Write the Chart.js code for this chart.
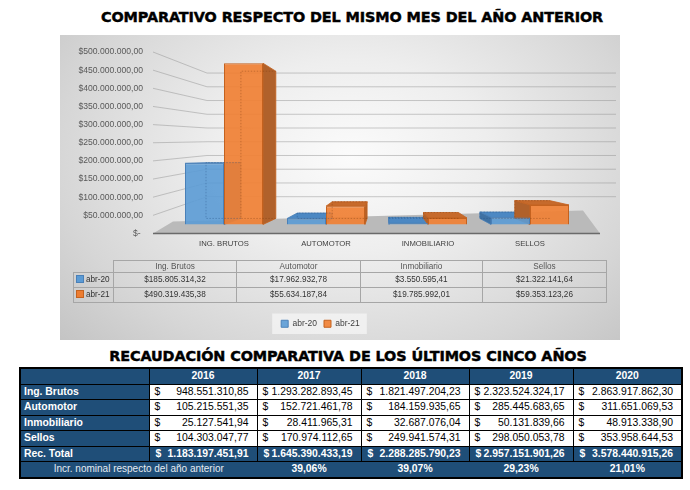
<!DOCTYPE html>
<html><head><meta charset="utf-8">
<script src="https://cdn.jsdelivr.net/npm/chart.js@4.4.1/dist/chart.umd.min.js"></script>
<style>
body{margin:0;width:690px;height:490px;background:#fff;position:relative;overflow:hidden;font-family:'Liberation Sans',Arial,sans-serif}
.t{position:absolute;width:690px;text-align:center;font-family:'DejaVu Sans',sans-serif;font-weight:bold;color:#000;-webkit-text-stroke:0.45px #000;white-space:nowrap;letter-spacing:-0.1px}
#t1{top:9px;left:7px;font-size:14.4px}
#t2{top:348px;left:3px;font-size:14.4px}
#box{position:absolute;left:60px;top:35px;width:560px;height:305px;
 background:radial-gradient(ellipse 70% 90% at 52% 40%,#fbfbfb 0%,#eeeeee 35%,#d6d6d6 75%,#c4c4c4 100%)}
#cw{position:absolute;left:0;top:0;width:560px;height:305px}
#dt{position:absolute;left:13px;top:225px;border-collapse:collapse;table-layout:fixed;font-size:8.2px;color:#333}
#dt td{border:1px solid #a6a6a6;text-align:center;padding:0;white-space:nowrap;height:14px;line-height:14px}
#dt tr:first-child td{height:11px;line-height:11px;color:#555}
#dt td.e{border-top:none;border-left:none}
#dt td.k{text-align:left;padding-left:2px}
#dt i{display:inline-block;width:6px;height:6px;border:1px solid;margin-right:2px;vertical-align:-1px}
#bt{position:absolute;left:19px;top:367px;width:662px;border-collapse:collapse;table-layout:fixed;border:2.5px solid #000;font-size:10.4px}
#bt td{border:1px solid #000;height:14.5px;line-height:14px;padding:0;white-space:nowrap}
#bt .h td{background:#1F4E78;color:#fff;font-weight:bold;text-align:center}
#bt td.l{background:#1F4E78;color:#fff;font-weight:bold;padding-left:3px}
#bt td.v{background:#fff;color:#000}
#bt td.v div{display:flex;justify-content:space-between;padding:0 8px 0 5px}
#bt .tot td{background:#1F4E78;color:#fff;font-weight:bold}
#bt .tot td div{display:flex;justify-content:space-between;padding:0 8px 0 6px}
#bt .inc td{background:#1F4E78;color:#fff;border-color:#1F4E78;text-align:center;font-weight:bold}
#bt .inc td.il{font-weight:normal;color:#e6ecf2;font-size:10px}
</style></head>
<body>
<div class="t" id="t1">COMPARATIVO RESPECTO DEL MISMO MES DEL AÑO ANTERIOR</div>
<div id="box"><div id="cw"><canvas id="c"></canvas></div><table id="dt"></table></div>
<div class="t" id="t2">RECAUDACIÓN COMPARATIVA DE LOS ÚLTIMOS CINCO AÑOS</div>
<table id="bt"></table>
<script>
// ---- chart data ----
const categories = ['Ing. Brutos','Automotor','Inmobiliario','Sellos'];
const seriesLabels = ['abr-20','abr-21'];
const abr20 = [185805314.32, 17962932.78, 3550595.41, 21322141.64];
const abr21 = [490319435.38, 55634187.84, 19785992.01, 59353123.26];
const yMax = 500000000;
const yStep = 50000000;

// ---- five-year table data ----
const years = ['2016','2017','2018','2019','2020'];
const rowLabels = ['Ing. Brutos','Automotor','Inmobiliario','Sellos'];
const ingBrutos = [948551310.85, 1293282893.45, 1821497204.23, 2323524324.17, 2863917862.30];
const automotor = [105215551.35, 152721461.78, 184159935.65, 285445683.65, 311651069.53];
const inmobiliario = [25127541.94, 28411965.31, 32687076.04, 50131839.66, 48913338.90];
const sellos = [104303047.77, 170974112.65, 249941574.31, 298050053.78, 353958644.53];
const recTotal = [1183197451.91, 1645390433.19, 2288285790.23, 2957151901.26, 3578440915.26];
const incrNominal = ['', '39,06%', '39,07%', '29,23%', '21,01%'];
const incrLabel = 'Incr. nominal respecto del año anterior';

function fmt(n){
  const [i,d] = n.toFixed(2).split('.');
  return i.replace(/\B(?=(\d{3})+(?!\d))/g,'.') + ',' + d;
}

const pal = {
  front:['rgba(91,155,213,0.9)','rgba(240,128,52,0.92)'],
  border:['#4a80b8','#c4621f'],
  side:['#3f71a3','#b0612b'],
  top:['#4c88c3','#c66a2c'],
  edge:['rgba(35,75,125,0.45)','rgba(120,55,15,0.45)'],
  key:['#5B9BD5','#ED7D31']
};

// chart data table
(function(){
  const dt = document.getElementById('dt');
  const widths = [40,123,124,122,124];
  let h = '<colgroup>' + widths.map(w=>'<col style="width:'+w+'px">').join('') + '</colgroup>';
  h += '<tr><td class="e"></td>' + categories.map(c=>'<td>'+c+'</td>').join('') + '</tr>';
  [abr20,abr21].forEach((arr,i)=>{
    h += '<tr><td class="k"><i style="background:'+pal.key[i]+';border-color:'+pal.border[i]+'"></i>'+seriesLabels[i]+'</td>' +
      arr.map(v=>'<td>$'+fmt(v)+'</td>').join('') + '</tr>';
  });
  dt.innerHTML = h;
})();

// five-year table
(function(){
  const bt = document.getElementById('bt');
  const widths = [129,108,104,108,104,109];
  let h = '<colgroup>' + widths.map(w=>'<col style="width:'+w+'px">').join('') + '</colgroup>';
  h += '<tr class="h"><td></td>' + years.map(y=>'<td>'+y+'</td>').join('') + '</tr>';
  [ingBrutos,automotor,inmobiliario,sellos].forEach((arr,r)=>{
    h += '<tr><td class="l">'+rowLabels[r]+'</td>' + arr.map(v=>'<td class="v"><div><span>$</span><span>'+fmt(v)+'</span></div></td>').join('') + '</tr>';
  });
  h += '<tr class="tot"><td style="padding-left:3px">Rec. Total</td>' + recTotal.map(v=>'<td><div><span>$</span><span>'+fmt(v)+'</span></div></td>').join('') + '</tr>';
  h += '<tr class="inc"><td class="il" colspan="2">'+incrLabel+'</td>' + incrNominal.slice(1).map(v=>'<td>'+v+'</td>').join('') + '</tr>';
  bt.innerHTML = h;
})();

// perspective helper (styling only)
const SX = 0.895, SY = 0.913;
function vp(ca){ return {x: ca.left + 212, y: ca.top + 103}; }
function proj(v,x,y){ return [v.x + (x - v.x)*SX, v.y + (y - v.y)*SY]; }

const bar3d = {
  id:'bar3d',
  beforeDraw(chart){
    const lg = chart.legend;
    if(!lg || !lg.legendHitBoxes || !lg.legendHitBoxes.length) return;
    const hb = lg.legendHitBoxes, f = hb[0], l = hb[hb.length-1];
    const ctx = chart.ctx;
    ctx.save();
    ctx.fillStyle = 'rgba(245,245,245,0.75)';
    ctx.fillRect(f.left-9, f.top-6, (l.left+l.width)-f.left+16, f.height+12);
    ctx.restore();
  },
  beforeDatasetsDraw(chart){
    const {ctx, chartArea:ca, scales} = chart;
    const ys = scales.y, yw = scales.yw;
    const v = vp(ca);
    ctx.save();
    // gridlines (side wall + back wall)
    ctx.strokeStyle = 'rgba(140,140,140,0.45)';
    ctx.lineWidth = 1;
    ys.ticks.forEach(t=>{
      if(t.value === 0) return;
      const y1 = ys.getPixelForValue(t.value), y2 = yw.getPixelForValue(t.value);
      ctx.beginPath();
      ctx.moveTo(ca.left-20, y1);
      ctx.lineTo(ca.left+34, y2);
      ctx.lineTo(chart.width-4, y2);
      ctx.stroke();
    });
    // floor
    const fy = ys.getPixelForValue(0), by = yw.getPixelForValue(0);
    ctx.fillStyle = '#bababa';
    ctx.beginPath();
    ctx.moveTo(ca.left-20, fy);
    ctx.lineTo(ca.right+19, fy);
    ctx.lineTo(ca.right+2, by);
    ctx.lineTo(ca.left, fy-12);
    ctx.closePath();
    ctx.fill();
    ctx.strokeStyle = '#6a6a6a';
    ctx.lineWidth = 1.5;
    ctx.beginPath();
    ctx.moveTo(ca.left-20, fy);
    ctx.lineTo(ca.right+19, fy);
    ctx.stroke();
    // side and top faces
    const bars = [];
    chart.data.datasets.forEach((ds,i)=>{
      const meta = chart.getDatasetMeta(i);
      if(meta.hidden) return;
      meta.data.forEach(el=>{
        const p = el.getProps(['x','y','base','width'], true);
        bars.push({i, l:p.x-p.width/2, r:p.x+p.width/2, t:Math.min(p.y,p.base), b:Math.max(p.y,p.base)});
      });
    });
    bars.sort((a,b)=>a.l-b.l);
    ctx.lineWidth = 0.8;
    bars.forEach(b=>{
      if(b.t > v.y){
        const a = proj(v,b.r,b.t), c = proj(v,b.l,b.t);
        ctx.fillStyle = pal.top[b.i]; ctx.strokeStyle = pal.border[b.i];
        ctx.beginPath(); ctx.moveTo(b.l,b.t); ctx.lineTo(b.r,b.t); ctx.lineTo(a[0],a[1]); ctx.lineTo(c[0],c[1]); ctx.closePath(); ctx.fill(); ctx.stroke();
      }
      let sx = null;
      if(b.r < v.x) sx = b.r; else if(b.l > v.x) sx = b.l;
      if(sx !== null){
        const p1 = proj(v,sx,b.t), p2 = proj(v,sx,b.b);
        ctx.fillStyle = pal.side[b.i]; ctx.strokeStyle = pal.border[b.i];
        ctx.beginPath(); ctx.moveTo(sx,b.t); ctx.lineTo(p1[0],p1[1]); ctx.lineTo(p2[0],p2[1]); ctx.lineTo(sx,b.b); ctx.closePath(); ctx.fill(); ctx.stroke();
      }
    });
    chart.$bars3d = bars;
    ctx.restore();
  },
  afterDatasetsDraw(chart){
    const {ctx, chartArea:ca} = chart;
    const v = vp(ca);
    ctx.save();
    ctx.lineWidth = 0.8;
    ctx.setLineDash([1.5,1.5]);
    (chart.$bars3d||[]).forEach(b=>{
      const bl = proj(v,b.l,b.b), tl = proj(v,b.l,b.t), tr = proj(v,b.r,b.t), br = proj(v,b.r,b.b);
      ctx.strokeStyle = pal.edge[b.i];
      ctx.beginPath();
      ctx.moveTo(br[0],br[1]); ctx.lineTo(bl[0],bl[1]); ctx.lineTo(tl[0],tl[1]); ctx.lineTo(tr[0],tr[1]);
      ctx.stroke();
    });
    ctx.restore();
  }
};

Chart.defaults.font.family = "'Liberation Sans', Arial, sans-serif";
new Chart(document.getElementById('c'), {
  type:'bar',
  data:{
    labels: categories,
    datasets:[
      {label:seriesLabels[0], data:abr20, yAxisID:'y2', backgroundColor:pal.front[0], borderColor:pal.border[0], borderWidth:1},
      {label:seriesLabels[1], data:abr21, yAxisID:'y2', backgroundColor:pal.front[1], borderColor:pal.border[1], borderWidth:1}
    ]
  },
  options:{
    responsive:true, maintainAspectRatio:false, animation:false,
    layout:{padding:{top:17, right:39, bottom:2, left:0}},
    datasets:{bar:{categoryPercentage:0.765, barPercentage:1.0}},
    plugins:{
      legend:{position:'bottom', labels:{boxWidth:7, boxHeight:7, padding:7, color:'#404040', font:{size:8.5}}},
      tooltip:{enabled:false}
    },
    scales:{
      x:{
        grid:{display:false, drawTicks:false}, border:{display:false},
        ticks:{color:'#404040', font:{size:7.7}, padding:6, callback:function(v){return this.getLabelForValue(v).toUpperCase();}},
        afterFit:s=>{s.height = 79;}
      },
      y:{
        position:'left', min:0, max:yMax,
        grid:{display:false, drawTicks:false}, border:{display:false},
        ticks:{stepSize:yStep, color:'#595959', font:{size:8.6}, padding:30,
          callback:v=> v===0 ? '$- ' : '$'+fmt(v)},
        afterFit:s=>{s.width = 113; s.paddingTop = 4; s.paddingBottom = 4;}
      },
      y2:{display:false, min:-27440000, max:524390000},
      yw:{display:false, min:-83900000, max:576600000}
    }
  },
  plugins:[bar3d]
});
</script>
</body></html>
